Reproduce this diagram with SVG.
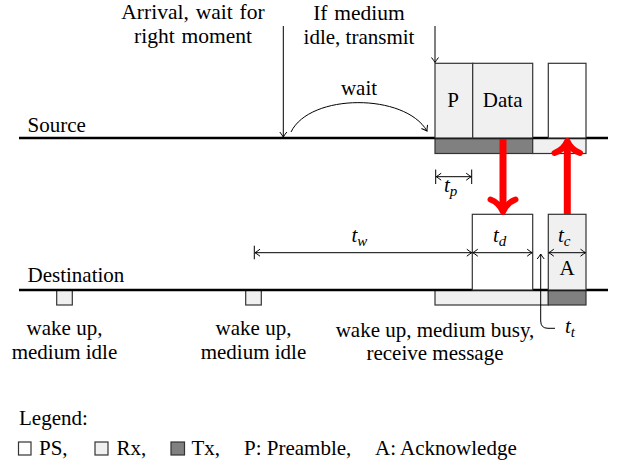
<svg xmlns="http://www.w3.org/2000/svg" width="624" height="465" viewBox="0 0 624 465">
<style>
.t{font-family:"Liberation Serif","Times New Roman",serif;font-size:21px;fill:#000}
.top{font-size:21.5px;word-spacing:1.5px}
.m{font-style:italic}
.s{font-size:15px}
.c{text-anchor:middle}
.ln{stroke:#000;stroke-width:2.5}
.bx{stroke:#333;stroke-width:1.2}
.ps{fill:#fff}
.rx{fill:#f0f0f0}
.tx{fill:#808080}
.th{stroke:#000;stroke-width:1;fill:none}
.red{stroke:#ff0000;stroke-width:7;fill:none}
.redh{stroke:#ff0000;stroke-width:6;fill:none;stroke-linecap:round;stroke-linejoin:round}
</style>
<defs>
<marker id="to" markerUnits="userSpaceOnUse" markerWidth="12" markerHeight="12" viewBox="-6 -6 12 12" refX="0" refY="0" orient="auto-start-reverse">
<path d="M-5,-3.5 Q-1.5,-0.8 0,0 Q-1.5,0.8 -5,3.5" fill="none" stroke="#000" stroke-width="1"/>
</marker>
</defs>
<rect width="624" height="465" fill="#fff"/>

<g id="source">
<rect class="bx tx" x="435" y="138" width="97.7" height="15.5"/>
<rect class="bx rx" x="532.7" y="138" width="53.3" height="15.5"/>
<line class="ln" x1="19" y1="138" x2="608" y2="138"/>
<text class="t" x="27.5" y="131.5">Source</text>
</g>
<g id="preamble">
<rect class="bx rx" x="435" y="63.3" width="37.7" height="74.7"/>
<text class="t c" x="453" y="107">P</text>
</g>
<g id="data">
<rect class="bx rx" x="472.7" y="63.3" width="60" height="74.7"/>
<text class="t c" x="502.7" y="107">Data</text>
</g>
<g id="ack-listen">
<rect class="bx ps" x="548.3" y="63.3" width="37.7" height="74.7"/>
</g>

<g id="destination">
<rect class="bx rx" x="435" y="290" width="113.3" height="15"/>
<rect class="bx tx" x="548.3" y="290" width="37.7" height="15"/>
<rect class="bx rx" x="56.7" y="290" width="15.6" height="15"/>
<rect class="bx rx" x="245.7" y="290" width="15.6" height="15"/>
<line class="ln" x1="19" y1="290" x2="608" y2="290"/>
<text class="t" x="27.5" y="281.5">Destination</text>
</g>
<g id="rx-data">
<rect class="bx ps" x="472.3" y="214.3" width="60.4" height="75.7"/>
</g>
<g id="ack">
<rect class="bx rx" x="548.3" y="214.3" width="37.7" height="75.7"/>
<text class="t c" x="567" y="275">A</text>
</g>

<g id="labels">
<text class="t top c" x="193" y="18.5">Arrival, wait for</text>
<text class="t top c" x="193" y="43">right moment</text>
<text class="t top c" x="359" y="19.5">If medium</text>
<text class="t c" x="359" y="44">idle, transmit</text>
<text class="t c" x="359" y="95">wait</text>
<text class="t c" x="64.5" y="335">wake up,</text>
<text class="t c" x="64.5" y="358.5">medium idle</text>
<text class="t c" x="253.5" y="335">wake up,</text>
<text class="t c" x="253.5" y="358.5">medium idle</text>
<text class="t c" x="435" y="336.5">wake up, medium busy,</text>
<text class="t c" x="435" y="360">receive message</text>
<text class="t m" x="351.5" y="241.5">t<tspan class="s" dy="4">w</tspan></text>
<text class="t m" x="493" y="241.5">t<tspan class="s" dy="4">d</tspan></text>
<text class="t m" x="558" y="241.5">t<tspan class="s" dy="4">c</tspan></text>
<text class="t m" x="444" y="192">t<tspan class="s" dy="4">p</tspan></text>
<text class="t m" x="565" y="333">t<tspan class="s" dy="4">t</tspan></text>
</g>

<g id="connectors">
<line class="th" x1="283.3" y1="26" x2="283.3" y2="137" marker-end="url(#to)"/>
<line class="th" x1="435" y1="26" x2="435" y2="62.5" marker-end="url(#to)"/>
<path class="th" d="M291,132 C310,93 405,93 427,131" marker-end="url(#to)"/>
<line class="th" x1="254.3" y1="245.7" x2="254.3" y2="259.3"/>
<line class="th" x1="255" y1="252.7" x2="471.8" y2="252.7" marker-start="url(#to)" marker-end="url(#to)"/>
<line class="th" x1="472.8" y1="252.7" x2="532.2" y2="252.7" marker-start="url(#to)" marker-end="url(#to)"/>
<line class="th" x1="548.8" y1="252.7" x2="585.5" y2="252.7" marker-start="url(#to)" marker-end="url(#to)"/>
<line class="th" x1="435.7" y1="169.5" x2="435.7" y2="184"/>
<line class="th" x1="471.7" y1="169.5" x2="471.7" y2="184"/>
<line class="th" x1="436.2" y1="176.7" x2="471.2" y2="176.7" marker-start="url(#to)" marker-end="url(#to)"/>
<path class="th" d="M555,328.3 L548,328.3 Q540.7,328.3 540.7,321 L540.7,254" marker-end="url(#to)"/>
<line class="red" x1="503" y1="139" x2="503" y2="210"/>
<path class="redh" d="M490.5,199.5 Q499.5,203 503,212 Q506.5,203 515.5,199.5"/>
<line class="red" x1="567.3" y1="214" x2="567.3" y2="144"/>
<path class="redh" d="M554.5,153 Q563.8,149.5 567.3,141 Q570.8,149.5 580,153"/>
</g>

<g id="legend">
<text class="t" x="19" y="425">Legend:</text>
<rect class="bx ps" x="18.5" y="442" width="12.5" height="13"/>
<text class="t" x="39" y="455">PS,</text>
<rect class="bx rx" x="95" y="442" width="13" height="13"/>
<text class="t" x="116.5" y="455">Rx,</text>
<rect class="bx tx" x="171" y="442" width="13.5" height="13"/>
<text class="t" x="191.5" y="455">Tx,</text>
<text class="t" x="244" y="455">P: Preamble,</text>
<text class="t" x="375" y="455">A: Acknowledge</text>
</g>
</svg>
